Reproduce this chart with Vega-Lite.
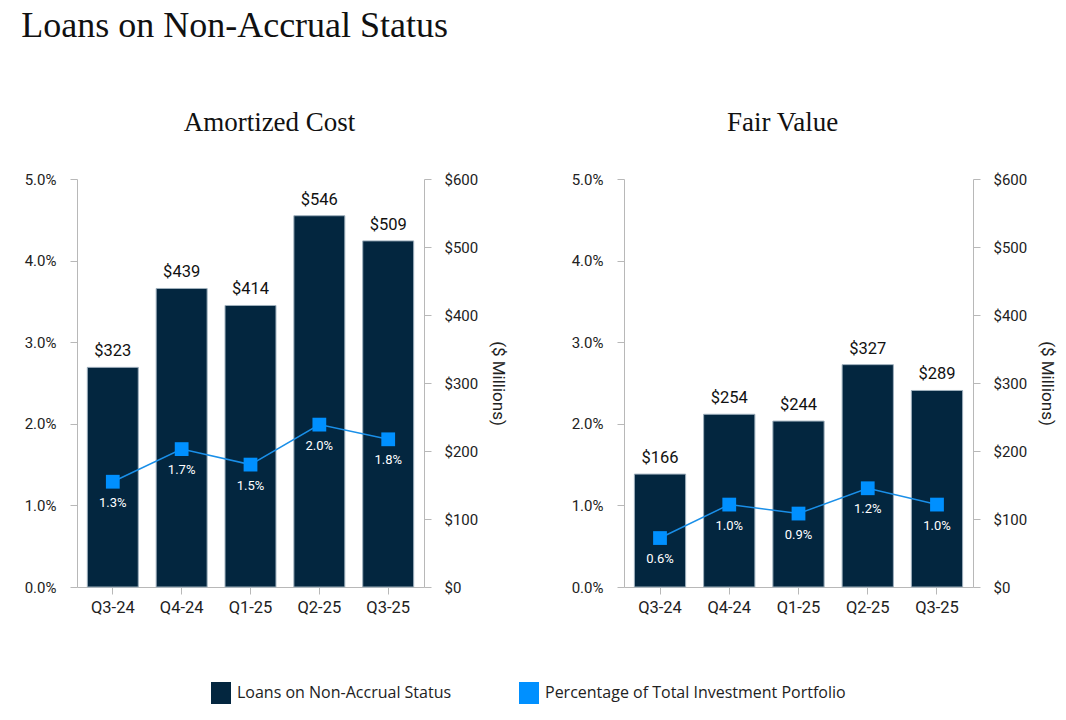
{
  "$schema": "https://vega.github.io/schema/vega-lite/v6.json",
  "background": "white",
  "padding": {"left": 21, "top": 8, "right": 8, "bottom": 8},
  "title": {"text": "Loans on Non-Accrual Status", "anchor": "start", "frame": "bounds", "font": "Liberation Serif", "fontSize": 36, "fontWeight": "normal", "color": "#111111", "offset": 64, "dx": -3},
  "config": {
    "view": {"stroke": null},
    "axis": {"domainColor": "#b8b8b8", "tickColor": "#b8b8b8", "tickSize": 7, "labelFont": "Roboto", "labelFontSize": 15, "labelColor": "#222222", "titleFont": "Roboto", "titleFontSize": 17, "titleFontWeight": "normal", "titleColor": "#222222", "grid": false},
    "axisY": {"labelPadding": 14},
    "axisX": {"labelPadding": 5, "labelFontSize": 16.5}
  },
  "datasets": {
    "loans": [
      {"panel": "Amortized Cost", "quarter": "Q3-24", "amount": 323, "pct": 0.0129},
      {"panel": "Amortized Cost", "quarter": "Q4-24", "amount": 439, "pct": 0.0169},
      {"panel": "Amortized Cost", "quarter": "Q1-25", "amount": 414, "pct": 0.0150},
      {"panel": "Amortized Cost", "quarter": "Q2-25", "amount": 546, "pct": 0.0199},
      {"panel": "Amortized Cost", "quarter": "Q3-25", "amount": 509, "pct": 0.0181},
      {"panel": "Fair Value", "quarter": "Q3-24", "amount": 166, "pct": 0.0060},
      {"panel": "Fair Value", "quarter": "Q4-24", "amount": 254, "pct": 0.0101},
      {"panel": "Fair Value", "quarter": "Q1-25", "amount": 244, "pct": 0.0090},
      {"panel": "Fair Value", "quarter": "Q2-25", "amount": 327, "pct": 0.0121},
      {"panel": "Fair Value", "quarter": "Q3-25", "amount": 289, "pct": 0.0101}
    ]
  },
  "spacing": 64,
  "hconcat": [
    {
      "width": 347,
      "height": 408,
      "title": {"text": "Amortized Cost", "font": "Liberation Serif", "fontSize": 27, "fontWeight": "normal", "color": "#111111", "offset": 35, "dx": 19},
      "data": {"name": "loans"},
      "transform": [{"filter": "datum.panel === 'Amortized Cost'"}],
      "encoding": {
        "x": {"field": "quarter", "type": "nominal", "sort": null, "scale": {"paddingInner": 0.26, "paddingOuter": 0.15}, "axis": {"title": null, "labelAngle": 0}}
      },
      "layer": [
        {
          "layer": [
            {
              "mark": {"type": "bar", "stroke": "#9fb0bd", "strokeWidth": 1},
              "encoding": {
                "y": {"field": "amount", "type": "quantitative", "scale": {"domain": [0, 600]}, "axis": {"orient": "right", "title": "($ Millions)", "values": [0, 100, 200, 300, 400, 500, 600], "format": "$.0f", "labelPadding": 13, "titlePadding": 11}},
                "color": {"datum": "Loans on Non-Accrual Status", "type": "nominal", "scale": {"domain": ["Loans on Non-Accrual Status", "Percentage of Total Investment Portfolio"], "range": ["#03263f", "#0090ff"]}, "legend": {"title": null, "orient": "none", "legendX": 133, "legendY": 503, "direction": "horizontal", "columns": 2, "columnPadding": 66, "symbolType": "M-0.91,-1H0.91V1H-0.91Z", "symbolSize": 484, "symbolStrokeWidth": 0, "labelFont": "Open Sans", "labelFontSize": 16, "labelColor": "#222222", "labelOffset": 5, "labelLimit": 500, "symbolOpacity": 1}}
              }
            },
            {
              "mark": {"type": "text", "baseline": "bottom", "dy": -8, "font": "Roboto", "fontSize": 16.5, "color": "#111111"},
              "encoding": {
                "y": {"field": "amount", "type": "quantitative"},
                "text": {"field": "amount", "type": "quantitative", "format": "$.0f"}
              }
            }
          ]
        },
        {
          "layer": [
            {
              "mark": {"type": "line", "color": "#1a8fe8", "strokeWidth": 1.5},
              "encoding": {
                "y": {"field": "pct", "type": "quantitative", "scale": {"domain": [0, 0.05]}, "axis": {"orient": "left", "title": null, "format": ".1%", "values": [0, 0.01, 0.02, 0.03, 0.04, 0.05]}}
              }
            },
            {
              "mark": {"type": "point", "shape": "square", "filled": true, "size": 190, "color": "#0090ff", "opacity": 1},
              "encoding": {"y": {"field": "pct", "type": "quantitative"}}
            },
            {
              "mark": {"type": "text", "baseline": "middle", "dy": 21, "font": "Roboto", "fontSize": 13, "color": "#ffffff"},
              "encoding": {
                "y": {"field": "pct", "type": "quantitative"},
                "text": {"field": "pct", "type": "quantitative", "format": ".1%"}
              }
            }
          ]
        }
      ],
      "resolve": {"scale": {"y": "independent"}}
    },
    {
      "width": 349,
      "height": 408,
      "title": {"text": "Fair Value", "font": "Liberation Serif", "fontSize": 27, "fontWeight": "normal", "color": "#111111", "offset": 35, "dx": -16},
      "data": {"name": "loans"},
      "transform": [{"filter": "datum.panel === 'Fair Value'"}],
      "encoding": {
        "x": {"field": "quarter", "type": "nominal", "sort": null, "scale": {"paddingInner": 0.26, "paddingOuter": 0.15}, "axis": {"title": null, "labelAngle": 0}}
      },
      "layer": [
        {
          "layer": [
            {
              "mark": {"type": "bar", "stroke": "#9fb0bd", "strokeWidth": 1},
              "encoding": {
                "y": {"field": "amount", "type": "quantitative", "scale": {"domain": [0, 600]}, "axis": {"orient": "right", "title": "($ Millions)", "values": [0, 100, 200, 300, 400, 500, 600], "format": "$.0f", "labelPadding": 13, "titlePadding": 11}},
                "color": {"datum": "Loans on Non-Accrual Status", "type": "nominal"}
              }
            },
            {
              "mark": {"type": "text", "baseline": "bottom", "dy": -8, "font": "Roboto", "fontSize": 16.5, "color": "#111111"},
              "encoding": {
                "y": {"field": "amount", "type": "quantitative"},
                "text": {"field": "amount", "type": "quantitative", "format": "$.0f"}
              }
            }
          ]
        },
        {
          "layer": [
            {
              "mark": {"type": "line", "color": "#1a8fe8", "strokeWidth": 1.5},
              "encoding": {
                "y": {"field": "pct", "type": "quantitative", "scale": {"domain": [0, 0.05]}, "axis": {"orient": "left", "title": null, "format": ".1%", "values": [0, 0.01, 0.02, 0.03, 0.04, 0.05]}}
              }
            },
            {
              "mark": {"type": "point", "shape": "square", "filled": true, "size": 190, "color": "#0090ff", "opacity": 1},
              "encoding": {"y": {"field": "pct", "type": "quantitative"}}
            },
            {
              "mark": {"type": "text", "baseline": "middle", "dy": 21, "font": "Roboto", "fontSize": 13, "color": "#ffffff"},
              "encoding": {
                "y": {"field": "pct", "type": "quantitative"},
                "text": {"field": "pct", "type": "quantitative", "format": ".1%"}
              }
            }
          ]
        }
      ],
      "resolve": {"scale": {"y": "independent"}}
    }
  ]
}
